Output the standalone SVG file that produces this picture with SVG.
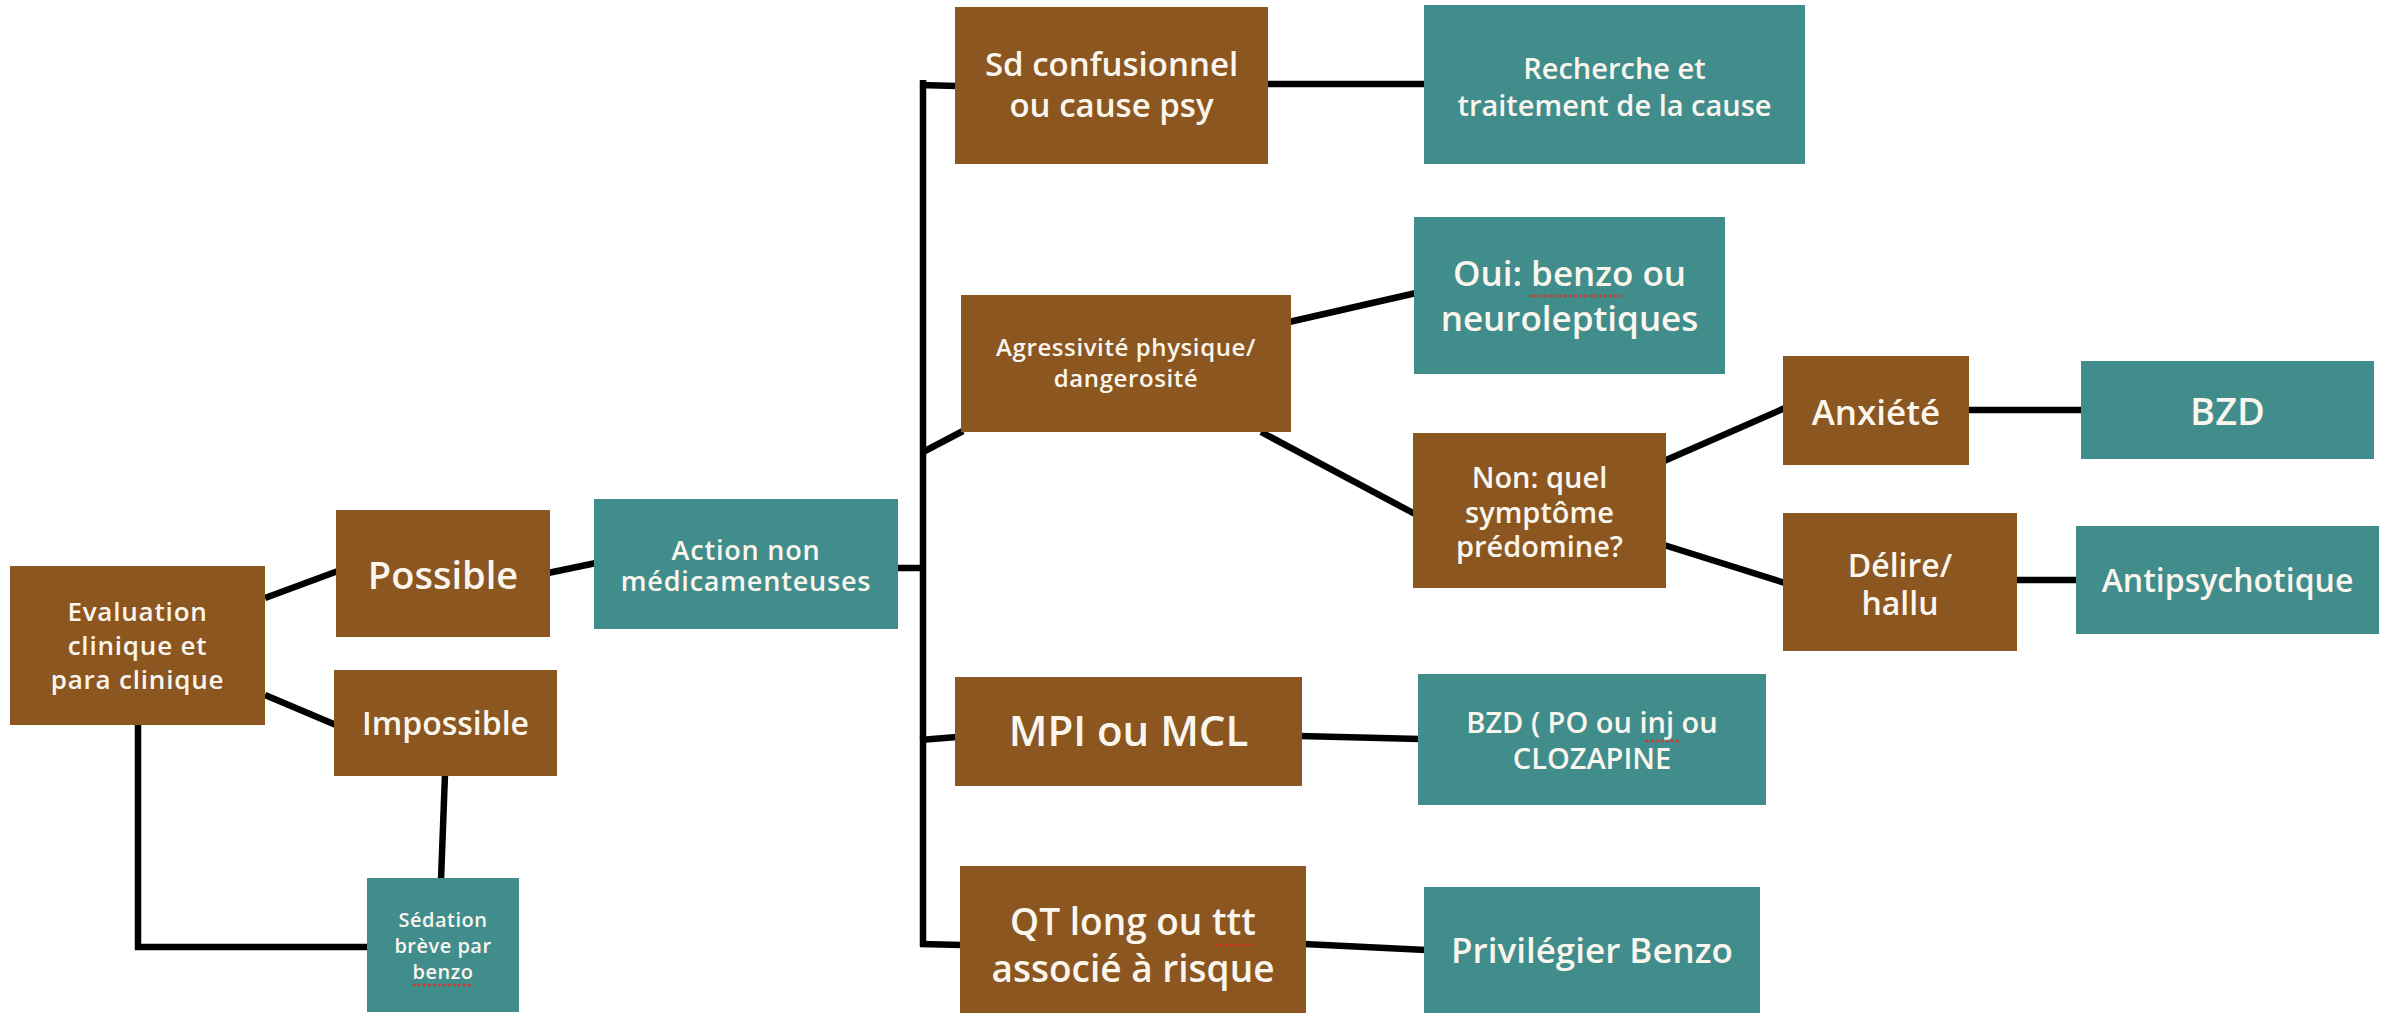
<svg xmlns="http://www.w3.org/2000/svg" width="2386" height="1017" viewBox="0 0 2386 1017">
<style>
.b{fill:#8B5620}
.t{fill:#418D8C}
text{font-family:"Open Sans","Liberation Sans",sans-serif;font-weight:600;fill:#FAF6EE;text-anchor:middle}
.c line,.c polyline{stroke:#000;stroke-width:6.5;fill:none}
.sq{stroke:#E0302A;stroke-width:2.5;stroke-dasharray:2.5 2.5;fill:none}
</style>
<rect width="2386" height="1017" fill="#fff"/>
<g class="c" id="connectors">
<line x1="265" y1="598" x2="338" y2="571"/>
<line x1="265" y1="695" x2="336" y2="725"/>
<line x1="445" y1="774" x2="441" y2="880"/>
<polyline points="138,723 138,947 369,947"/>
<line x1="548" y1="573" x2="596" y2="563"/>
<line x1="896" y1="568" x2="923" y2="568"/>
<line x1="923" y1="80" x2="923" y2="946"/>
<line x1="920" y1="85" x2="957" y2="86"/>
<line x1="923" y1="452" x2="963" y2="431"/>
<line x1="920" y1="740" x2="957" y2="737"/>
<line x1="920" y1="944" x2="962" y2="945"/>
<line x1="1266" y1="84" x2="1426" y2="84"/>
<line x1="1289" y1="322" x2="1416" y2="293"/>
<line x1="1261" y1="432" x2="1415" y2="514"/>
<line x1="1664" y1="461" x2="1785" y2="408"/>
<line x1="1664" y1="545" x2="1785" y2="583"/>
<line x1="1967" y1="410" x2="2083" y2="410"/>
<line x1="2015" y1="580" x2="2078" y2="580"/>
<line x1="1300" y1="736" x2="1420" y2="739"/>
<line x1="1304" y1="944" x2="1426" y2="950"/>
</g>
<g id="evaluation"><rect class="b" x="10" y="566" width="255" height="159"/>
<text font-size="26" letter-spacing="0.8"><tspan x="137.5" y="621">Evaluation</tspan><tspan x="137.5" y="655">clinique et</tspan><tspan x="137.5" y="689">para clinique</tspan></text></g>
<g id="possible"><rect class="b" x="336" y="510" width="214" height="127"/>
<text font-size="38" x="443" y="589">Possible</text></g>
<g id="impossible"><rect class="b" x="334" y="670" width="223" height="106"/>
<text font-size="32" x="445.5" y="735">Impossible</text></g>
<g id="sedation"><rect class="t" x="367" y="878" width="152" height="134"/>
<text font-size="20" letter-spacing="0.5"><tspan x="443" y="927">Sédation</tspan><tspan x="443" y="953">brève par</tspan><tspan x="443" y="979">benzo</tspan></text>
<line class="sq" x1="413" y1="985" x2="472" y2="985"/></g>
<g id="action"><rect class="t" x="594" y="499" width="304" height="130"/>
<text font-size="27" letter-spacing="0.8"><tspan x="746" y="560">Action non</tspan><tspan x="746" y="591">médicamenteuses</tspan></text></g>
<g id="sd"><rect class="b" x="955" y="7" width="313" height="157"/>
<text font-size="33"><tspan x="1111.5" y="76">Sd confusionnel</tspan><tspan x="1111.5" y="117">ou cause psy</tspan></text></g>
<g id="recherche"><rect class="t" x="1424" y="5" width="381" height="159"/>
<text font-size="29"><tspan x="1614.5" y="79">Recherche et</tspan><tspan x="1614.5" y="116">traitement de la cause</tspan></text></g>
<g id="oui"><rect class="t" x="1414" y="217" width="311" height="157"/>
<text font-size="35"><tspan x="1569.5" y="286">Oui: benzo ou</tspan><tspan x="1569.5" y="331">neuroleptiques</tspan></text>
<line class="sq" x1="1529" y1="296" x2="1622" y2="296"/></g>
<g id="agressivite"><rect class="b" x="961" y="295" width="330" height="137"/>
<text font-size="24" letter-spacing="0.6"><tspan x="1126" y="356">Agressivité physique/</tspan><tspan x="1126" y="387">dangerosité</tspan></text></g>
<g id="non"><rect class="b" x="1413" y="433" width="253" height="155"/>
<text font-size="29"><tspan x="1539.5" y="488">Non: quel</tspan><tspan x="1539.5" y="523">symptôme</tspan><tspan x="1539.5" y="557">prédomine?</tspan></text></g>
<g id="anxiete"><rect class="b" x="1783" y="356" width="186" height="109"/>
<text font-size="35" x="1876" y="425">Anxiété</text></g>
<g id="bzd"><rect class="t" x="2081" y="361" width="293" height="98"/>
<text font-size="38" x="2227.5" y="425">BZD</text></g>
<g id="delire"><rect class="b" x="1783" y="513" width="234" height="138"/>
<text font-size="32"><tspan x="1900" y="577">Délire/</tspan><tspan x="1900" y="615">hallu</tspan></text></g>
<g id="antipsychotique"><rect class="t" x="2076" y="526" width="303" height="108"/>
<text font-size="32" x="2227.5" y="592">Antipsychotique</text></g>
<g id="mpi"><rect class="b" x="955" y="677" width="347" height="109"/>
<text font-size="42" x="1128.5" y="746">MPI ou MCL</text></g>
<g id="bzdpo"><rect class="t" x="1418" y="674" width="348" height="131"/>
<text font-size="29"><tspan x="1592" y="733">BZD ( PO ou inj ou</tspan><tspan x="1592" y="769">CLOZAPINE</tspan></text>
<line class="sq" x1="1646" y1="741" x2="1680" y2="741"/></g>
<g id="qt"><rect class="b" x="960" y="866" width="346" height="147"/>
<text font-size="37"><tspan x="1133" y="935">QT long ou ttt</tspan><tspan x="1133" y="982">associé à risque</tspan></text>
<line class="sq" x1="1215" y1="945" x2="1255" y2="945"/></g>
<g id="privilegier"><rect class="t" x="1424" y="887" width="336" height="126"/>
<text font-size="35" x="1592" y="963">Privilégier Benzo</text></g>
</svg>
